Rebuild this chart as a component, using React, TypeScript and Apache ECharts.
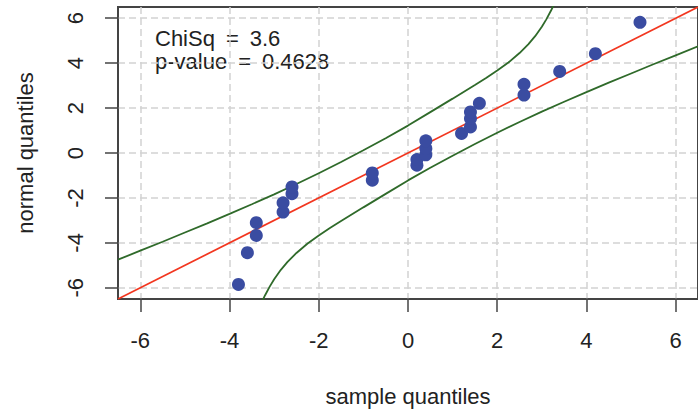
import React, { useEffect, useRef } from "react";
import * as echarts from "echarts";

// Sample vs normal quantiles (points)
const sampleQ = [-3.8, -3.6, -3.4, -3.4, -2.8, -2.8, -2.6, -2.6, -0.8, -0.8, 0.2, 0.2, 0.4, 0.4, 0.4, 1.2, 1.4, 1.4, 1.4, 1.6, 2.6, 2.6, 3.4, 4.2, 5.2];
const normalQ = [-5.85, -4.44, -3.67, -3.1, -2.63, -2.22, -1.81, -1.51, -1.21, -0.89, -0.54, -0.29, -0.08, 0.2, 0.54, 0.87, 1.16, 1.54, 1.83, 2.21, 2.58, 3.06, 3.63, 4.42, 5.82];

// Reference line y = x (end points)
const refX = [-6.5, 6.5];
const refY = [-6.5, 6.5];

// Upper confidence envelope
const upperX = [-6.5, -6.0, -5.5, -5.0, -4.5, -4.0, -3.5, -3.0, -2.5, -2.0, -1.5, -1.0, -0.5, 0.0, 0.5, 1.0, 1.5, 1.75, 2.0, 2.25, 2.5, 2.7, 2.85, 3.0, 3.1, 3.2, 3.27];
const upperY = [-4.75, -4.35, -3.95, -3.54, -3.13, -2.71, -2.28, -1.84, -1.38, -0.9, -0.4, 0.12, 0.66, 1.22, 1.82, 2.42, 3.03, 3.34, 3.67, 4.03, 4.45, 4.85, 5.2, 5.62, 5.95, 6.32, 6.6];

// Lower confidence envelope
const lowerX = [-3.27, -3.2, -3.1, -3.0, -2.85, -2.7, -2.5, -2.25, -2.0, -1.75, -1.5, -1.0, -0.5, 0.0, 0.5, 1.0, 1.5, 2.0, 2.5, 3.0, 3.5, 4.0, 4.5, 5.0, 5.5, 6.0, 6.5];
const lowerY = [-6.6, -6.32, -5.95, -5.62, -5.2, -4.85, -4.45, -4.03, -3.67, -3.34, -3.03, -2.42, -1.82, -1.22, -0.66, -0.12, 0.4, 0.9, 1.38, 1.84, 2.28, 2.71, 3.13, 3.54, 3.95, 4.35, 4.75];

// Tick values
const xTicks = [-6, -4, -2, 0, 2, 4, 6];
const yTicks = [-6, -4, -2, 0, 2, 4, 6];

const annotations = ["ChiSq\u2002=\u20023.6", "p-value\u2002=\u20020.4628"];

const FONT = "'Liberation Sans', Arial, Helvetica, sans-serif";

export default function App() {
  const ref = useRef<HTMLDivElement>(null);

  useEffect(() => {
    if (!ref.current) return;
    const chart = echarts.init(ref.current, undefined, { renderer: "svg" });

    const axisCommon = {
      type: "value" as const,
      min: -6.5,
      max: 6.5,
      axisLine: { show: true, onZero: false, lineStyle: { color: "#444", width: 1.5 } },
      splitLine: { show: true, lineStyle: { color: "#d2d2d2", width: 1.5, type: [7, 4] } },
      nameLocation: "middle" as const,
      nameTextStyle: { fontSize: 22, color: "#222", fontFamily: FONT },
    };

    chart.setOption({
      animation: false,
      backgroundColor: "#fff",
      grid: {
        left: 118,
        top: 7,
        width: 586.5,
        height: 292,
        show: true,
        borderColor: "#444",
        borderWidth: 2,
        containLabel: false,
      },
      xAxis: {
        ...axisCommon,
        name: "sample quantiles",
        nameGap: 86,
        axisTick: { show: true, length: 13, customValues: xTicks, lineStyle: { color: "#444", width: 1.5 } },
        axisLabel: { customValues: xTicks, fontSize: 22, color: "#222", fontFamily: FONT, margin: 30 },
      },
      yAxis: {
        ...axisCommon,
        name: "normal quantiles",
        nameGap: 82,
        axisTick: { show: true, length: 13, customValues: yTicks, lineStyle: { color: "#444", width: 1.5 } },
        axisLabel: { customValues: yTicks, fontSize: 22, color: "#222", fontFamily: FONT, margin: 32, rotate: 90 },
      },
      series: [
        {
          type: "line",
          data: upperX.map((x, i) => [x, upperY[i]]),
          showSymbol: false,
          clip: true,
          lineStyle: { color: "#2f6a2a", width: 1.8 },
        },
        {
          type: "line",
          data: lowerX.map((x, i) => [x, lowerY[i]]),
          showSymbol: false,
          clip: true,
          lineStyle: { color: "#2f6a2a", width: 1.8 },
        },
        {
          type: "line",
          data: refX.map((x, i) => [x, refY[i]]),
          showSymbol: false,
          clip: true,
          lineStyle: { color: "#f2361f", width: 1.7 },
        },
        {
          type: "scatter",
          data: sampleQ.map((x, i) => [x, normalQ[i]]),
          symbol: "circle",
          symbolSize: 13,
          itemStyle: { color: "#3a4ca1", opacity: 1 },
          z: 5,
        },
      ],
      graphic: annotations.map((t, i) => ({
        type: "text",
        x: 155,
        y: 38 + i * 23,
        style: {
          text: t,
          fontSize: 22,
          fontFamily: FONT,
          fill: "#222",
          verticalAlign: "middle",
        },
      })),
    });

    return () => chart.dispose();
  }, []);

  return (
    <div
      ref={ref}
      style={{ position: "fixed", left: 0, top: 0, width: 698, height: 412, background: "#fff" }}
    />
  );
}
